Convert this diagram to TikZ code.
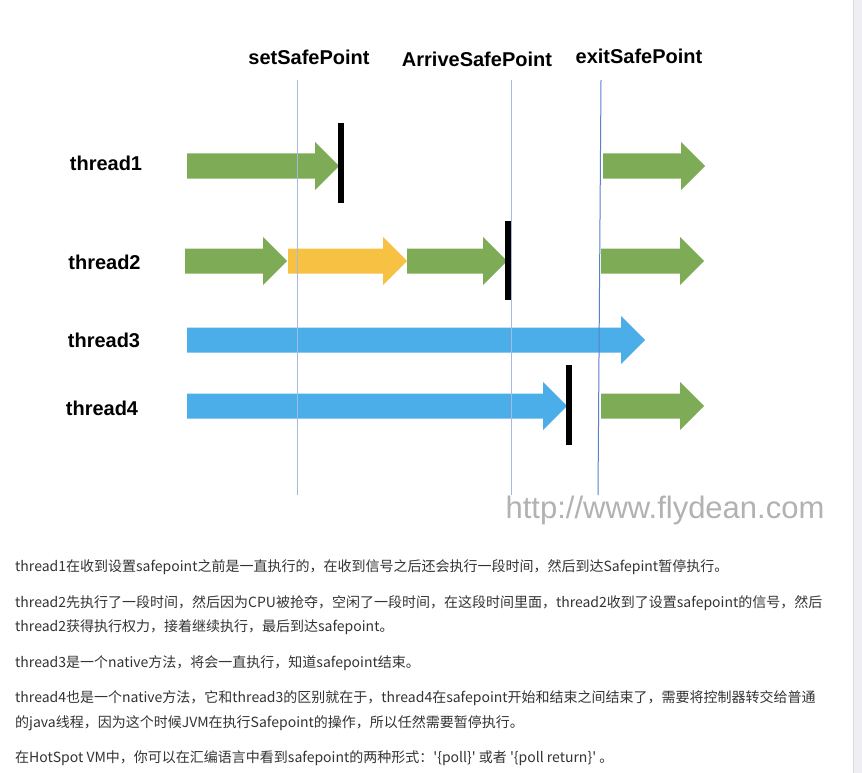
\documentclass[tikz,border=0pt]{standalone}
\usepackage{fontspec}
\setmainfont{Liberation Sans}
\newfontfamily\cjkfont{Noto Sans CJK SC}
\usetikzlibrary{positioning}
\definecolor{runGreen}{RGB}{126,171,85}
\definecolor{waitYellow}{RGB}{247,193,67}
\definecolor{nativeBlue}{RGB}{76,174,233}
\definecolor{markLine}{RGB}{165,185,225}
\definecolor{exitLine}{RGB}{90,128,204}
\definecolor{bodyText}{RGB}{51,51,51}
\definecolor{markGray}{RGB}{178,178,178}
\definecolor{scrollFill}{RGB}{238,238,244}
\definecolor{scrollEdge}{RGB}{216,216,224}
\tikzset{
	threadlabel/.style={font=\bfseries\fontsize{20}{24}\selectfont, inner sep=0pt},
	pointlabel/.style={font=\bfseries\fontsize{20}{24}\selectfont, inner sep=0pt},
	guide/.style={markLine, line width=1pt},
	stopbar/.style={black, line width=5.5pt},
	para/.style={font=\cjkfont\fontsize{14}{20}\selectfont, text=bodyText, anchor=base west, inner sep=0pt}
}
% block arrow: start x, tip x, centre y, colour
\newcommand{\runarrow}[4]{%
	\fill[#4] (#1,#3-12.5) -- (#2-24,#3-12.5) -- (#2-24,#3-24) -- (#2,#3)
	-- (#2-24,#3+24) -- (#2-24,#3+12.5) -- (#1,#3+12.5) -- cycle;}

\begin{document}
\begin{tikzpicture}[x=1pt, y=-1pt]
	\useasboundingbox (0,0) rectangle (862,773);
	\fill[white] (0,0) rectangle (862,773);
	\fill[scrollFill] (853,0) rectangle (862,773);
	\draw[scrollEdge, line width=1pt] (853.5,0) -- (853.5,773);
	
	% safepoint labels
	\node[pointlabel] (setp) at (309,57) {setSafePoint};
	\node[pointlabel] (arrivep) at (477,59) {ArriveSafePoint};
	\node[pointlabel] (exitp) at (639,56) {exitSafePoint};
	
	% thread labels
	\node[threadlabel] (t1) at (106,163) {thread1};
	\node[threadlabel] (t2) at (104.5,262) {thread2};
	\node[threadlabel] (t3) at (104,340) {thread3};
	\node[threadlabel] (t4) at (102,408) {thread4};
	
	% thread runs
	\foreach \xa/\xb/\yc/\col in {187/339/166/runGreen, 603/705/166/runGreen,
		185/287/261/runGreen, 288/407/261/waitYellow, 407/507/261/runGreen, 601/704/261/runGreen,
		187/645/340/nativeBlue,
		187/567/406/nativeBlue, 601/704/406/runGreen}
	\runarrow{\xa}{\xb}{\yc}{\col};
	
	% time marks
	\coordinate (setTop) at (297,80);
	\coordinate (setBot) at (297,495);
	\coordinate (arriveTop) at (511,80);
	\coordinate (arriveBot) at (511,495);
	\coordinate (exitTop) at (601,80);
	\coordinate (exitBot) at (598,495);
	\draw[guide] (setTop) -- (setBot);
	\draw[guide] (arriveTop) -- (arriveBot);
	\draw[guide, exitLine] (exitTop) -- (exitBot);
	
	% stop bars
	\coordinate (s1a) at (341,123);
	\coordinate (s1b) at (341,203);
	\coordinate (s2a) at (508,221);
	\coordinate (s2b) at (508,300);
	\coordinate (s4a) at (569,365);
	\coordinate (s4b) at (569,445);
	\draw[stopbar] (s1a) -- (s1b);
	\draw[stopbar] (s2a) -- (s2b);
	\draw[stopbar] (s4a) -- (s4b);
	
	\node[font=\fontsize{31}{36}\selectfont, text=markGray, inner sep=0pt] (site) at (665,510) {http://www.flydean.com};
	
	% explanation text
	\node[para] (p1) at (15,571) {thread1在收到设置safepoint之前是一直执行的，在收到信号之后还会执行一段时间，然后到达Safepint暂停执行。};
	\node[para] (p2) at (15,607) {thread2先执行了一段时间，然后因为CPU被抢夺，空闲了一段时间，在这段时间里面，thread2收到了设置safepoint的信号，然后};
	\node[para] (p3) at (15,631) {thread2获得执行权力，接着继续执行，最后到达safepoint。};
	\node[para] (p4) at (15,667) {thread3是一个native方法，将会一直执行，知道safepoint结束。};
	\node[para] (p5) at (15,702) {thread4也是一个native方法，它和thread3的区别就在于，thread4在safepoint开始和结束之间结束了，需要将控制器转交给普通};
	\node[para] (p6) at (15,727) {的java线程，因为这个时候JVM在执行Safepoint的操作，所以任然需要暂停执行。};
	\node[para] (p7) at (15,762) {在HotSpot VM中，你可以在汇编语言中看到safepoint的两种形式：\textquotesingle\{poll\}\textquotesingle{} 或者 \textquotesingle\{poll return\}\textquotesingle{} 。};
\end{tikzpicture}
\end{document}
